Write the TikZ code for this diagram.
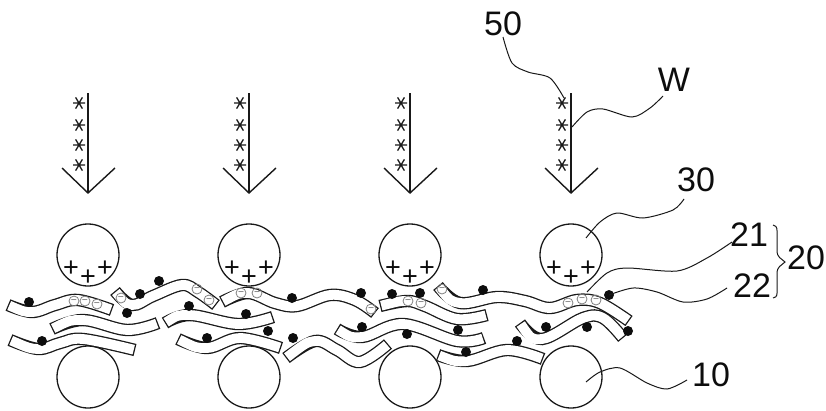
\documentclass[tikz,border=0pt]{standalone}
\usepackage{fontspec}
\setmainfont{Liberation Sans}
\tikzset{
  x=1pt,y=-1pt,
  ink/.style={line width=1.4pt,black!90},
  leader/.style={line width=1pt,black!90},
  roller/.style={circle,draw=black!90,line width=1.3pt,minimum size=62pt,inner sep=0pt,fill=white},
  fiberout/.style={line width=12.4pt,black!90,line cap=butt},
  fiberin/.style={line width=9.8pt,white,line cap=butt,shorten >=1.3pt,shorten <=1.3pt},
  partdot/.style={circle,fill=black!95,minimum size=10pt,inner sep=0pt},
  negmark/.style={circle,draw=black!50,line width=0.8pt,minimum size=10pt,inner sep=0pt,font=\fontsize{9}{9}\selectfont,text=black!75},
  plusmark/.style={inner sep=0pt,font=\fontsize{27}{27}\selectfont,text=black!95},
  lbl/.style={inner sep=0pt,font=\fontsize{34}{34}\selectfont,text=black!95},
  pics/spark/.style={code={\draw[line width=1.3pt,black!90] (-6,0)--(6,0) (-3.4,-5.6)--(3.4,5.6) (-3.4,5.6)--(3.4,-5.6);}}
}
\newcommand{\fiberpath}[1]{%
  \draw[fiberout] plot[smooth,tension=0.6] coordinates {#1};
  \draw[fiberin] plot[smooth,tension=0.6] coordinates {#1};}
\begin{document}
\begin{tikzpicture}
\useasboundingbox (0,0) rectangle (826,410);
% rollers
\foreach \i/\cx in {1/88,2/249,3/410,4/571}{
  \node[roller] (top\i) at (\cx,255) {};
  \node[roller] (bot\i) at (\cx,377) {};
  \node[plusmark] (pa\i) at (\cx-17,269) {+};
  \node[plusmark] (pb\i) at (\cx,278) {+};
  \node[plusmark] (pc\i) at (\cx+17,269) {+};
  \coordinate (tail\i) at (\cx,93);
  \coordinate (tip\i) at (\cx,193);
  \coordinate (hl\i) at (\cx-26,168);
  \coordinate (hr\i) at (\cx+27,168);
  \draw[ink] (tail\i) -- (tip\i);
  \draw[ink] (hl\i) -- (tip\i) -- (hr\i);
  \foreach \sy in {103,125,145,165}{ \pic at (\cx-9,\sy) {spark}; }
}
% fibres
\fiberpath{(8,305)(32,312)(55,305)(78,300)(112,310)}
\fiberpath{(52,329)(83,320)(127,330)(158,323)}
\fiberpath{(10,340)(38,349)(60,343)(83,339)(135,350)}
\fiberpath{(165,323)(190,315)(238,324)(273,317)}
\fiberpath{(115,291)(132,305)(153,296)(182,285)(198,292)(216,305)}
\fiberpath{(178,339)(207,348)(240,338)(281,348)}
\fiberpath{(222,302)(248,293)(275,303)(297,306)(330,295)(355,300)(375,313)}
\fiberpath{(286,358)(315,341)(337,350)(360,362)(388,344)}
\fiberpath{(337,329)(362,337)(403,324)(457,341)(484,338)}
\fiberpath{(380,306)(407,301)(425,306)(457,319)(487,315)}
\fiberpath{(438,355)(467,361)(507,350)(543,359)}
\fiberpath{(438,286)(460,303)(497,297)(525,301)(550,308)(577,300)(600,303)(629,321)}
\fiberpath{(520,323)(542,339)(583,318)(603,318)(623,338)}
% particles
\foreach \n/\px/\py in {1/29/302,2/42/341,3/127/313,4/140/294,5/159/281,6/189/306,7/246/314,8/268/331,9/207/338,10/293/338,11/292/298,12/361/293,13/392/294,14/420/293,15/483/290,16/458/330,17/362/327,18/407/334,19/466/352,20/517/341,21/546/327,22/587/327,23/628/331,24/609/295}
  \node[partdot] (d\n) at (\px,\py) {};
\foreach \n/\px/\py in {1/74/301,2/85/301,3/97/304,4/121/298,5/197/289,6/209/300,7/241/293,8/257/293,9/371/309,10/408/301,11/421/303,12/442/289,13/568/303,14/582/299,15/596/300}
  \node[negmark] (m\n) at (\px,\py) {–};
% labels
\node[lbl] (l50) at (503,24) {50};
\node[lbl] (lW) at (674,80) {W};
\node[lbl] (l30) at (696,180) {30};
\node[lbl] (l21) at (749,235) {21};
\node[lbl] (l22) at (752,286) {22};
\node[lbl] (l20) at (806,258) {20};
\node[lbl] (l10) at (711,375) {10};
% leaders
\coordinate (e50) at (564,98);
\coordinate (eW) at (572,127);
\coordinate (e30) at (586,238);
\coordinate (e21) at (587,292);
\coordinate (e10) at (586,382);
\draw[leader] plot[smooth] coordinates {(503,37)(512,63)(528,72)(550,78)(e50)};
\draw[leader] plot[smooth] coordinates {(eW)(587,112)(603,109)(632,117)(650,108)(663,96)};
\draw[leader] plot[smooth] coordinates {(e30)(600,222)(617,213)(643,218)(673,210)(684,199)};
\draw[leader] plot[smooth] coordinates {(e21)(607,273)(627,268)(677,271)(707,258)(732,242)};
\draw[leader] plot[smooth] coordinates {(d24)(633,288)(657,292)(683,302)(707,299)(727,288)};
\draw[leader] plot[smooth] coordinates {(e10)(600,372)(620,368)(647,383)(667,389)(687,380)};
% brace
\draw[leader] (773,225) .. controls (778,226) and (777,230) .. (777,236)
  -- (777,250) .. controls (777,258) and (781,258) .. (785,262)
  .. controls (781,266) and (777,266) .. (777,274)
  -- (777,288) .. controls (777,294) and (778,297) .. (773,298);
\end{tikzpicture}
\end{document}
